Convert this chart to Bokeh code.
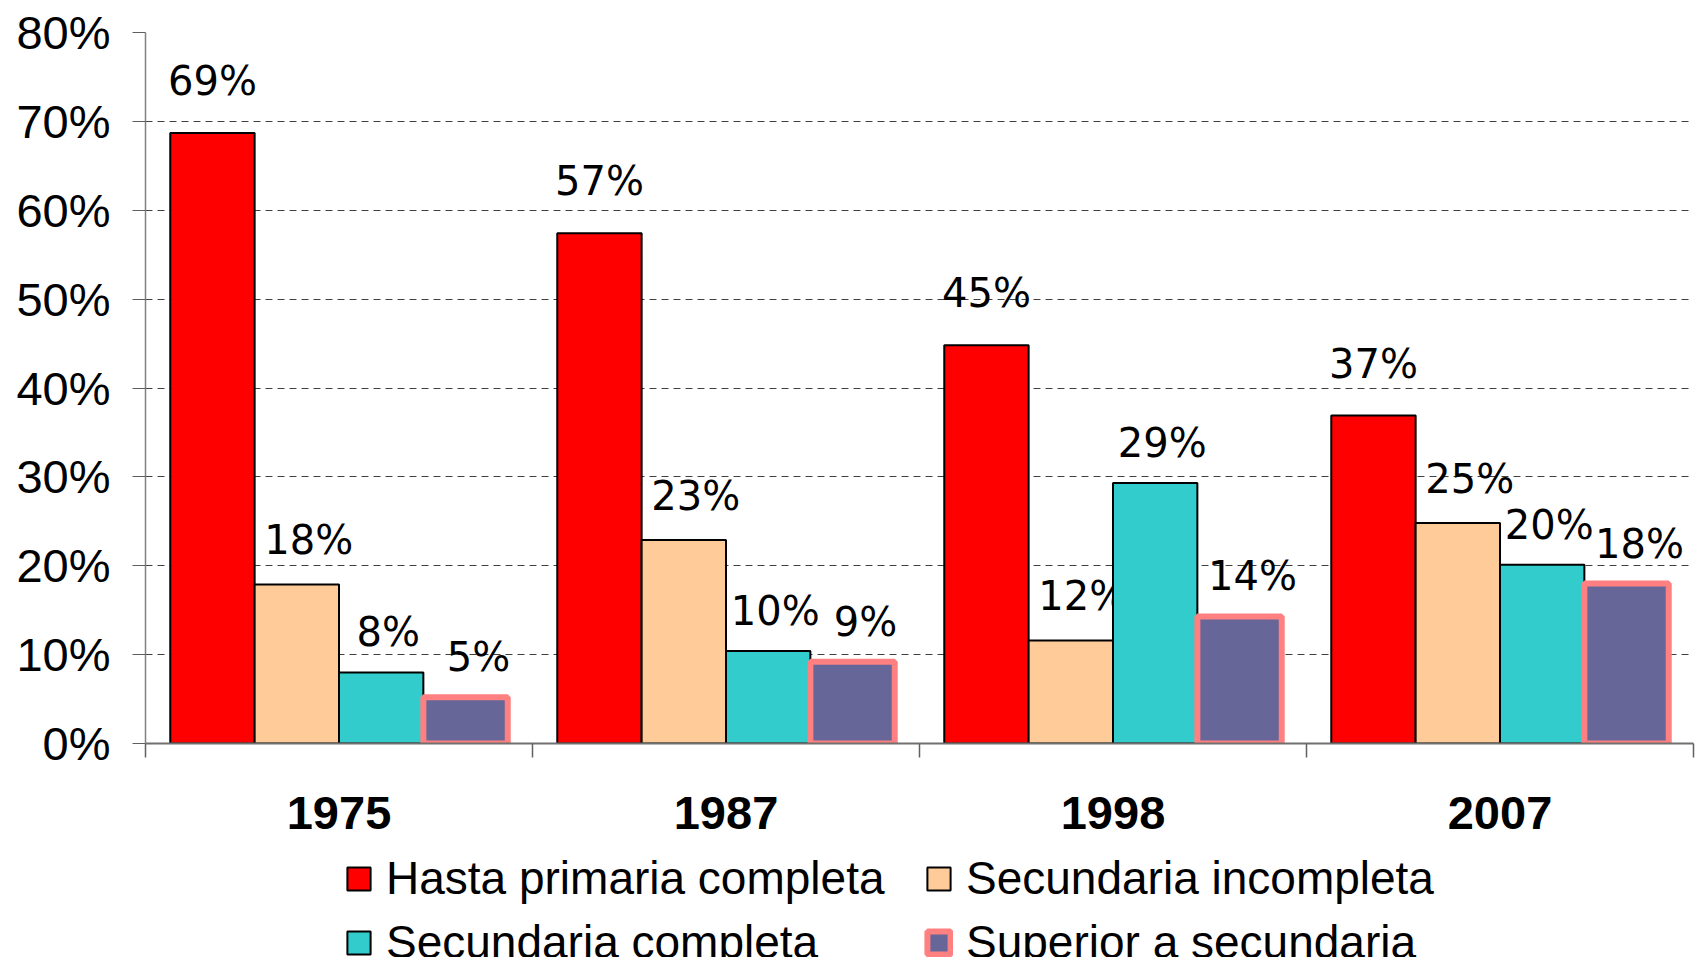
from bokeh.plotting import figure
from bokeh.layouts import column
from bokeh.models import (Range1d, LinearAxis, FixedTicker,
                          Legend, LegendItem, ColumnDataSource)
from bokeh.transform import dodge
from bokeh.core.properties import value
from bokeh.embed import file_html
from bokeh.resources import INLINE

years = ["1975", "1987", "1998", "2007"]
series = ["Hasta primaria completa", "Secundaria incompleta",
          "Secundaria completa", "Superior a secundaria"]
hasta_primaria = [68.7, 57.4, 44.8, 36.9]
secundaria_incompleta = [17.9, 22.9, 11.6, 24.8]
secundaria_completa = [8.0, 10.4, 29.3, 20.1]
superior = [5.2, 9.2, 14.3, 18.0]
y_ticks = [0, 10, 20, 30, 40, 50, 60, 70, 80]

values = [hasta_primaria, secundaria_incompleta, secundaria_completa, superior]
fills = ["#FF0000", "#FFCC99", "#33CCCC", "#666699"]
lines = ["#000000", "#000000", "#000000", "#FF8080"]
line_widths = [2, 2, 2, 6]
label_dx = [0, 12, 7, 13]
label_dy = [-52, -44, -40, -40]

W = 0.218
offsets = [-1.5 * W, -0.5 * W, 0.5 * W, 1.5 * W]
n = len(years)
centers = [i + 0.5 for i in range(n)]

p = figure(width=1696, height=840, x_range=Range1d(0, n),
           y_range=Range1d(0, 80), x_axis_location=None,
           output_backend="svg", toolbar_location=None,
           min_border_left=145, min_border_top=32, min_border_right=3, min_border_bottom=97)
p.outline_line_color = None
p.background_fill_color = "white"
p.xgrid.visible = False
p.ygrid.grid_line_color = "#404040"
p.ygrid.grid_line_dash = "7 5"
p.ygrid.grid_line_width = 1

ya = p.yaxis[0]
ya.ticker = FixedTicker(ticks=y_ticks)
ya.major_label_overrides = {t: f"{t}%" for t in y_ticks}
ya.major_label_text_font = "Liberation Sans"
ya.major_label_text_font_size = "47px"
ya.major_label_text_color = "black"
ya.major_label_standoff = 22
ya.major_tick_in = 0
ya.major_tick_out = 13
ya.minor_tick_line_color = None
ya.axis_line_color = "#808080"
ya.major_tick_line_color = "#606060"
ya.axis_line_width = 1.5

tick_axis = LinearAxis(ticker=FixedTicker(ticks=list(range(n + 1))),
                       major_tick_in=0, major_tick_out=14,
                       minor_tick_line_color=None,
                       major_label_text_font_size="0px", major_label_standoff=0,
                       axis_line_color="#707070", axis_line_width=2,
                       major_tick_line_color="#606060", major_tick_line_width=1.5)
p.add_layout(tick_axis, "below")

cat_axis = LinearAxis(ticker=FixedTicker(ticks=centers),
                      major_label_overrides={c: y for c, y in zip(centers, years)},
                      major_tick_line_color=None, minor_tick_line_color=None,
                      axis_line_color=None,
                      major_label_text_font="Liberation Sans",
                      major_label_text_font_style="bold",
                      major_label_text_font_size="47px",
                      major_label_text_color="black",
                      major_label_standoff=33)
p.add_layout(cat_axis, "below")

data = {"xc": centers}
for i, v in enumerate(values):
    data[f"v{i}"] = v
    data[f"l{i}"] = [f"{round(x)}%" for x in v]
src = ColumnDataSource(data)

for i in range(4):
    p.vbar(x=dodge("xc", offsets[i]), top=f"v{i}", width=W,
           source=src, fill_color=fills[i], line_color=lines[i], line_width=line_widths[i])
    p.text(x=dodge("xc", offsets[i]), y=f"v{i}", text=f"l{i}",
           source=src, x_offset=label_dx[i], y_offset=label_dy[i],
           text_align="center", text_baseline="middle",
           text_font=value("DejaVu Sans"), text_font_size="40px", text_color="black")

# legend strip below the chart (its frame is aligned with the chart's frame)
lg = figure(width=1696, height=117, x_range=Range1d(0, 1), y_range=Range1d(0, 1),
            output_backend="svg", toolbar_location=None,
            min_border_left=0, min_border_right=0, min_border_top=0, min_border_bottom=0)
lg.axis.visible = False
lg.grid.visible = False
lg.outline_line_color = None
swatch_src = ColumnDataSource({"x": [0.5], "top": [1.0]})
swatches = []
for i in range(4):
    swatches.append(lg.vbar(x="x", top="top", width=0.1, source=swatch_src,
                            fill_color=fills[i], line_color=lines[i],
                            line_width=line_widths[i], visible=False))
order = [0, 2, 1, 3]
legend = Legend(items=[LegendItem(label=series[i], renderers=[swatches[i]]) for i in order],
                ncols=2, location=(199, -12),
                glyph_width=29, glyph_height=29, label_standoff=13,
                label_text_font="Liberation Sans", label_text_font_size="46px",
                label_text_color="black", label_width=528, spacing=10,
                padding=0, margin=0, border_line_color=None, background_fill_alpha=0)
lg.add_layout(legend)

open("out.html", "w").write(file_html(column(p, lg, spacing=0), INLINE))
